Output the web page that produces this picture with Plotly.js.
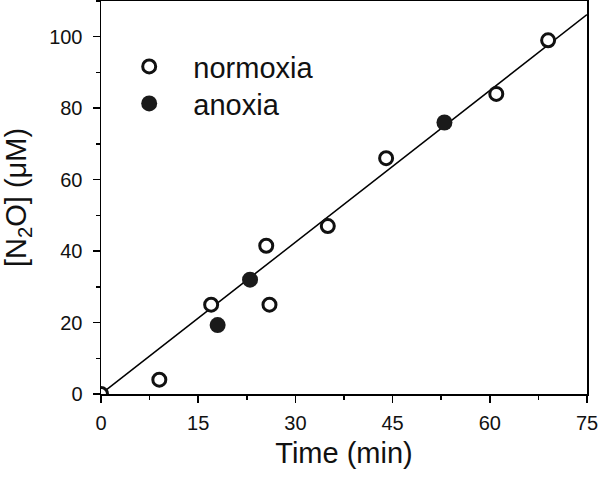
<!DOCTYPE html>
<html><head><meta charset="utf-8">
<script src="https://cdn.plot.ly/plotly-3.0.1.min.js"></script>
<style>body{margin:0;padding:0;background:#fff}#c{width:600px;height:477px}</style>
</head><body><div id="c"></div>
<script>
const normoxiaX = [0, 9, 17, 25.5, 26, 35, 44, 61, 69];
const normoxiaY = [0, 4, 25, 41.5, 25, 47, 66, 84, 99];
const anoxiaX = [18, 23, 53];
const anoxiaY = [19.3, 32, 76];
const fitX = [0, 75];
const fitY = [0, 106.2];
const xTicks = [0, 15, 30, 45, 60, 75];
const yTicks = [0, 20, 40, 60, 80, 100];

const FONT = 'Liberation Sans, Arial, sans-serif';
const PAD = '\u00a0\u00a0\u00a0';
const traces = [
  {x: fitX, y: fitY, mode: 'lines', line: {color: '#000', width: 1.5}, showlegend: false, hoverinfo: 'skip'},
  {x: normoxiaX, y: normoxiaY, mode: 'markers', name: PAD + 'normoxia', cliponaxis: true, legend: 'legend',
   marker: {symbol: 'circle', size: 13, color: '#fff', line: {color: '#111', width: 3}}},
  {x: anoxiaX, y: anoxiaY, mode: 'markers', name: PAD + 'anoxia', cliponaxis: true, legend: 'legend2',
   marker: {symbol: 'circle', size: 16, color: '#1a1a1a', line: {color: '#1a1a1a', width: 0}}}
];
const axisCommon = {
  showgrid: false, zeroline: false, showline: true, linecolor: '#000', linewidth: 1.5, mirror: true,
  ticks: 'outside', ticklen: 7, tickwidth: 1.5, tickcolor: '#000',
  tickfont: {family: FONT, size: 20, color: '#111'}
};
const legendCommon = {xanchor: 'left', yanchor: 'top', bgcolor: 'rgba(0,0,0,0)',
  font: {family: FONT, size: 29, color: '#111'}, itemwidth: 30};
const layout = {
  width: 600, height: 477,
  margin: {l: 101, r: 13, t: 1, b: 83},
  paper_bgcolor: '#fff', plot_bgcolor: '#fff',
  xaxis: Object.assign({}, axisCommon, {
    range: [0, 75], tickvals: xTicks, ticktext: xTicks.map(String),
    ticklabelstandoff: 3,
    minor: {dtick: 7.5, ticks: 'outside', ticklen: 4, tickwidth: 1.5, tickcolor: '#000'},
    title: {text: 'Time (min)', font: {family: FONT, size: 29, color: '#111'}, standoff: 10}
  }),
  yaxis: Object.assign({}, axisCommon, {
    range: [0, 110], tickvals: yTicks, ticktext: yTicks.map(String),
    ticklabelstandoff: 6,
    minor: {dtick: 10, ticks: 'outside', ticklen: 4, tickwidth: 1.5, tickcolor: '#000'},
    title: {text: '[N<sub>2</sub>O] (μM)', font: {family: FONT, size: 29, color: '#111'}, standoff: 17}
  }),
  legend: Object.assign({x: 0.058, y: 0.898}, legendCommon),
  legend2: Object.assign({x: 0.058, y: 0.804}, legendCommon),
  showlegend: true
};
Plotly.newPlot('c', traces, layout, {staticPlot: true});
</script></body></html>
